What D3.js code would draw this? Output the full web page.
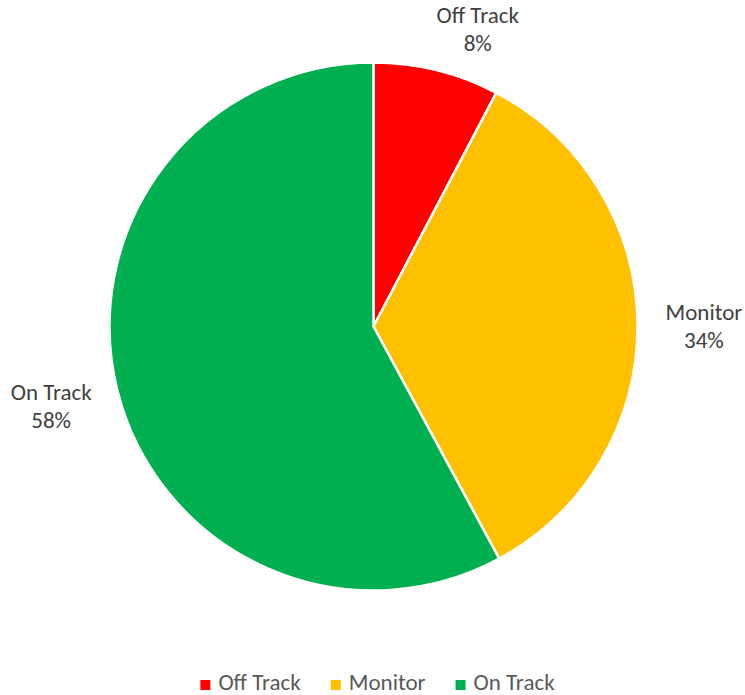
<!DOCTYPE html>
<html>
<head>
<meta charset="utf-8">
<script src="https://cdn.jsdelivr.net/npm/d3@7/dist/d3.min.js"></script>
<style>
  html, body { margin: 0; padding: 0; background: #fff; }
  svg { display: block; }
</style>
</head>
<body>
<svg id="chart" width="745" height="695"></svg>
<script>
// ---- data ----
const categories = ["Off Track", "Monitor", "On Track"];
const values = [7.7, 34.4, 57.9];
const colors = ["#FF0000", "#FFC000", "#00B050"];

// ---- layout ----
const W = 745, H = 695;
const cx = 373.5, cy = 326.5, R = 264;
const fontFamily = "Carlito, Calibri, Lato, 'Open Sans', sans-serif";
const fontSize = 23;
const lineGap = 28;
const labelGap = 28;

const svg = d3.select("#chart");
const total = d3.sum(values);
const pct = d3.format(".0%");

const pie = d3.pie().sort(null).value(d => d.v);
const data = pie(categories.map((c, i) => ({ c, v: values[i], col: colors[i] })));
const arc = d3.arc().innerRadius(0).outerRadius(R);

const g = svg.append("g").attr("transform", `translate(${cx},${cy})`);
g.selectAll("path.slice").data(data).join("path")
  .attr("class", "slice")
  .attr("d", arc)
  .attr("fill", d => d.data.col)
  .attr("stroke", "#fff")
  .attr("stroke-width", 2.5)
  .attr("stroke-linejoin", "round");

// data labels
const labels = g.selectAll("g.lbl").data(data).join("g").attr("class", "lbl");
labels.each(function(d) {
  const sel = d3.select(this);
  const t1 = sel.append("text").text(d.data.c);
  const t2 = sel.append("text").text(pct(d.data.v / total)).attr("y", lineGap);
  sel.selectAll("text")
    .attr("text-anchor", "middle")
    .attr("font-family", fontFamily)
    .attr("font-size", fontSize)
    .attr("fill", "#404040");
  const w = Math.max(t1.node().getComputedTextLength(), t2.node().getComputedTextLength());
  const h = lineGap + fontSize * 0.75;
  const mid = (d.startAngle + d.endAngle) / 2;
  const sx = Math.sin(mid), sy = -Math.cos(mid);
  let px = (R + labelGap) * sx + sx * w / 2;
  let py = (R + labelGap) * sy + sy * h / 2;
  // keep inside the canvas; when pushed down at the top, slide outward along x
  const topLimit = -cy + 5;
  if (py - h / 2 < topLimit) {
    const shift = topLimit + h / 2 - py;
    py = topLimit + h / 2;
    px += Math.sign(sx) * shift * 3.7;
  }
  const firstBaseline = py - h / 2 + fontSize * 0.8;
  sel.attr("transform", `translate(${px},${firstBaseline})`);
});

// legend
const legend = svg.append("g");
const sq = 10, sqGap = 8, itemGap = 30;
let x = 0;
const items = legend.selectAll("g.item").data(categories).join("g").attr("class", "item");
items.each(function(c, i) {
  const s = d3.select(this);
  s.append("rect").attr("width", sq).attr("height", sq).attr("y", -sq).attr("fill", colors[i]);
  const t = s.append("text").text(c)
    .attr("x", sq + sqGap)
    .attr("font-family", fontFamily)
    .attr("font-size", fontSize)
    .attr("fill", "#595959");
  const tw = t.node().getComputedTextLength();
  s.attr("transform", `translate(${x},0)`);
  x += sq + sqGap + tw + itemGap;
});
const legendW = x - itemGap;
legend.attr("transform", `translate(${(W - legendW) / 2 + 5},${H - 5})`);
</script>
</body>
</html>
